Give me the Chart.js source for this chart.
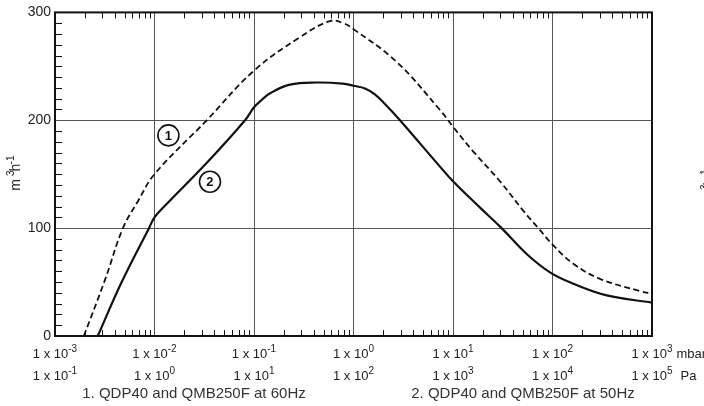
<!DOCTYPE html>
<html>
<head>
<meta charset="utf-8">
<script src="https://cdn.jsdelivr.net/npm/chart.js@4.4.1/dist/chart.umd.min.js"></script>
<style>
  html, body { margin: 0; padding: 0; background: #fff; }
  #wrap { width: 704px; height: 406px; }
</style>
</head>
<body>
<div id="wrap"><canvas id="chart"></canvas></div>
<script>
// axis labels
const mbarExponents = [-3, -2, -1, 0, 1, 2, 3];
const paExponents = [-1, 0, 1, 2, 3, 4, 5];
const yTicks = [0, 100, 200, 300];
const captions = ['1. QDP40 and QMB250F at 60Hz', '2. QDP40 and QMB250F at 50Hz'];

// curve 1 (dashed, 60Hz): pressure in mbar, pumping speed in m3/h
const pressure60 = [0.00195, 0.00318, 0.00482, 0.00682, 0.01, 0.0335, 0.1, 0.29, 0.58, 0.79, 1, 2.72, 7.4, 10, 16, 29.6, 51, 72, 102, 162, 300, 757, 1000];
const flow60 = [0, 52, 100, 125, 150, 200, 246, 277, 292, 290, 284.5, 254, 209.5, 194, 171, 143.5, 116, 100, 84, 67, 53, 41.7, 39];

// curve 2 (solid, 50Hz)
const pressure50 = [0.00269, 0.00468, 0.0088, 0.01, 0.0125, 0.0347, 0.0813, 0.1, 0.12, 0.145, 0.23, 0.427, 0.78, 1, 1.305, 1.64, 2.07, 2.93, 7.4, 10, 18.7, 30.8, 55, 94.4, 162, 351, 1000];
const flow50 = [0, 50, 100, 110, 120, 162, 200, 212, 219, 225, 233, 235, 234, 232, 229.5, 224, 215, 200, 157, 143.5, 119, 100, 76, 59, 48.5, 37.7, 31];

// circled curve numbers, placed in data coordinates
const curveNames = ['1', '2'];
const namePressure = [0.0138, 0.0361];
const nameFlow = [186, 143];

const FONT = 'Liberation Sans, Arial, sans-serif';

function pts(xs, ys) {
    return xs.map((x, i) => ({ x: x, y: ys[i] }));
}

function drawPow(ctx, base, exp, cx, y, size) {
    ctx.font = size + 'px ' + FONT;
    const wb = ctx.measureText(base).width;
    ctx.font = (size - 3) + 'px ' + FONT;
    const we = ctx.measureText(exp).width;
    const left = cx - (wb + we) / 2;
    ctx.textAlign = 'left';
    ctx.font = size + 'px ' + FONT;
    ctx.fillText(base, left, y);
    ctx.font = (size - 3) + 'px ' + FONT;
    ctx.fillText(exp, left + wb, y - 6);
    return left + wb + we;
}

function drawUnit(ctx, x, y) {
    // m3h-1 rotated
    ctx.save();
    ctx.translate(x, y);
    ctx.rotate(-Math.PI / 2);
    ctx.fillStyle = '#222';
    ctx.textBaseline = 'alphabetic';
    const parts = [['m', 0], ['3', 1], ['h', 0], ['-1', 1]];
    let w = 0;
    parts.forEach(p => {
        ctx.font = (p[1] ? 10 : 14) + 'px ' + FONT;
        w += ctx.measureText(p[0]).width;
    });
    let cx = -w / 2;
    parts.forEach(p => {
        ctx.font = (p[1] ? 10 : 14) + 'px ' + FONT;
        ctx.fillText(p[0], cx, p[1] ? -6 : 0);
        cx += ctx.measureText(p[0]).width;
    });
    ctx.restore();
}

const decorations = {
    id: 'decorations',
    afterDraw(chart) {
        const ctx = chart.ctx;
        const a = chart.chartArea;
        const xs = chart.scales.x;
        const ys = chart.scales.y;
        ctx.save();

        // frame
        ctx.strokeStyle = '#111';
        ctx.lineWidth = 2;
        ctx.strokeRect(a.left, a.top, a.right - a.left, a.bottom - a.top);

        // minor ticks on x (bottom and top)
        ctx.lineWidth = 1;
        ctx.beginPath();
        for (let e = -3; e < 3; e++) {
            for (let m = 2; m <= 9; m++) {
                const px = Math.round(xs.getPixelForValue(m * Math.pow(10, e))) + 0.5;
                ctx.moveTo(px, a.bottom);
                ctx.lineTo(px, a.bottom - 6);
                ctx.moveTo(px, a.top);
                ctx.lineTo(px, a.top + 6);
            }
        }
        // minor ticks on y (left)
        for (let v = 10; v < 300; v += 10) {
            if (v % 100 === 0) continue;
            const py = Math.round(ys.getPixelForValue(v)) + 0.5;
            ctx.moveTo(a.left, py);
            ctx.lineTo(a.left + 7, py);
        }
        ctx.stroke();

        // x labels: mbar and Pa rows
        ctx.fillStyle = '#222';
        ctx.textBaseline = 'alphabetic';
        mbarExponents.forEach((e, i) => {
            const px = xs.getPixelForValue(Math.pow(10, e));
            const end = drawPow(ctx, '1 x 10', String(e), px, a.bottom + 22, 13);
            const end2 = drawPow(ctx, '1 x 10', String(paExponents[i]), px, a.bottom + 44, 13);
            if (i === mbarExponents.length - 1) {
                ctx.font = '13px ' + FONT;
                ctx.textAlign = 'left';
                ctx.fillText('mbar', end + 4, a.bottom + 22);
                ctx.fillText('Pa', end2 + 8, a.bottom + 44);
            }
        });

        // captions
        ctx.font = '15px ' + FONT;
        ctx.textAlign = 'center';
        ctx.fillStyle = '#333';
        ctx.fillText(captions[0], 194, a.bottom + 62);
        ctx.fillText(captions[1], 523, a.bottom + 62);

        // y unit
        drawUnit(ctx, 20, 168);
        drawUnit(ctx, 714, 182);

        // circled curve numbers
        ctx.lineWidth = 1.6;
        ctx.strokeStyle = '#111';
        ctx.fillStyle = '#111';
        ctx.font = 'bold 13px ' + FONT;
        ctx.textAlign = 'center';
        ctx.textBaseline = 'middle';
        curveNames.forEach((n, i) => {
            const cx = xs.getPixelForValue(namePressure[i]);
            const cy = ys.getPixelForValue(nameFlow[i]);
            ctx.beginPath();
            ctx.arc(cx, cy, 10.5, 0, Math.PI * 2);
            ctx.stroke();
            ctx.fillText(n, cx, cy + 1);
        });
        ctx.restore();
    }
};

new Chart(document.getElementById('chart'), {
    type: 'scatter',
    data: {
        datasets: [{
            label: '1',
            data: pts(pressure60, flow60),
            showLine: true,
            borderColor: '#111',
            borderWidth: 1.8,
            borderDash: [6, 3.5],
            pointRadius: 0,
            tension: 0.4
        }, {
            label: '2',
            data: pts(pressure50, flow50),
            showLine: true,
            borderColor: '#111',
            borderWidth: 2.2,
            pointRadius: 0,
            tension: 0.4
        }]
    },
    options: {
        responsive: true,
        maintainAspectRatio: false,
        animation: false,
        layout: { padding: { top: 10, right: 52, left: 0, bottom: 0 } },
        plugins: { legend: { display: false }, tooltip: { enabled: false } },
        scales: {
            x: {
                type: 'logarithmic',
                min: 0.001,
                max: 1000,
                afterBuildTicks: s => { s.ticks = mbarExponents.map(e => ({ value: Math.pow(10, e) })); },
                afterFit: s => { s.height = 70; },
                ticks: { display: false },
                grid: { color: '#555', lineWidth: 1, drawTicks: false },
                border: { display: false }
            },
            y: {
                min: 0,
                max: 300,
                afterBuildTicks: s => { s.ticks = yTicks.map(v => ({ value: v })); },
                afterFit: s => { s.width = 55; },
                ticks: { color: '#222', font: { family: FONT, size: 14 }, padding: 4 },
                grid: { color: '#555', lineWidth: 1, drawTicks: false },
                border: { display: false }
            }
        }
    },
    plugins: [decorations]
});
</script>
</body>
</html>
